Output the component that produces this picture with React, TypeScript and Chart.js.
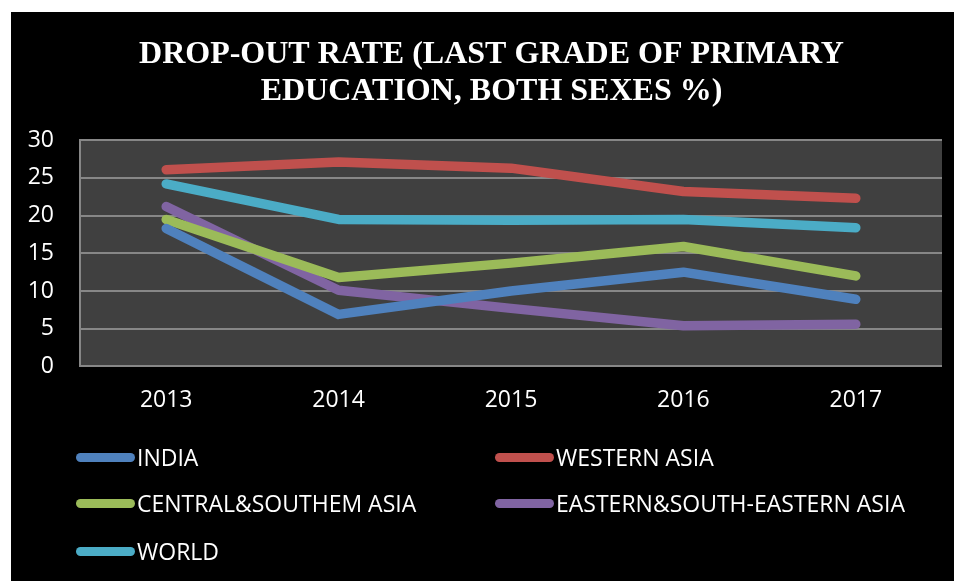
import React, { useEffect, useRef } from "react";
import { Chart, registerables } from "chart.js";

Chart.register(...registerables);

const years = ["2013", "2014", "2015", "2016", "2017"];
const india = [18.3, 6.9, 10.0, 12.5, 8.9];
const westernAsia = [26.1, 27.1, 26.3, 23.2, 22.3];
const centralSouthernAsia = [19.5, 11.8, 13.7, 15.9, 12.0];
const easternSouthEasternAsia = [21.2, 10.1, 7.7, 5.4, 5.6];
const world = [24.2, 19.5, 19.4, 19.5, 18.4];

const seriesNames = [
  "INDIA",
  "WESTERN ASIA",
  "CENTRAL&SOUTHEM ASIA",
  "EASTERN&SOUTH-EASTERN ASIA",
  "WORLD",
];
const seriesColors = ["#4F81BD", "#C0504D", "#9BBB59", "#8064A2", "#4BACC6"];
const seriesValues = [india, westernAsia, centralSouthernAsia, easternSouthEasternAsia, world];

const titleLines = ["DROP-OUT RATE (LAST GRADE OF PRIMARY", "EDUCATION, BOTH SEXES %)"];

const plotBg = {
  id: "plotBg",
  afterLayout(chart: any) {
    const tb = chart.titleBlock;
    if (tb) {
      tb.left += 15;
      tb.right += 15;
    }
  },
  beforeDraw(chart: any) {
    const { ctx, chartArea } = chart;
    ctx.save();
    ctx.fillStyle = "#000000";
    ctx.fillRect(0, 0, chart.width, chart.height);
    ctx.fillStyle = "#404040";
    ctx.fillRect(chartArea.left, chartArea.top, chartArea.right - chartArea.left, chartArea.bottom - chartArea.top);
    ctx.restore();
  },
};

const legendPos = [
  { left: 65, top: 445 },
  { left: 484, top: 445 },
  { left: 65, top: 491 },
  { left: 484, top: 491 },
  { left: 65, top: 539 },
];

export default function App() {
  const ref = useRef<HTMLCanvasElement | null>(null);

  useEffect(() => {
    if (!ref.current) return;
    const chart = new Chart(ref.current, {
      type: "line",
      data: {
        labels: years,
        datasets: seriesNames.map((name, i) => ({
          label: name,
          data: seriesValues[i],
          borderColor: seriesColors[i],
          backgroundColor: seriesColors[i],
          borderWidth: 9.5,
          borderCapStyle: "round",
          borderJoinStyle: "round",
          pointRadius: 0,
          tension: 0,
          fill: false,
        })),
      },
      options: {
        animation: false,
        responsive: false,
        maintainAspectRatio: false,
        layout: { padding: { left: 0, right: 20, top: 0, bottom: 147 } },
        plugins: {
          legend: { display: false },
          tooltip: { enabled: false },
          title: {
            display: true,
            text: titleLines,
            color: "#ffffff",
            font: { family: "'Liberation Serif', 'Times New Roman', serif", size: 32, weight: "bold", lineHeight: 1.16 },
            padding: { top: 24, bottom: 30 },
          },
        },
        scales: {
          x: {
            offset: true,
            grid: { display: false, drawTicks: false },
            border: { display: false },
            ticks: {
              color: "#ffffff",
              font: { family: "'Open Sans', sans-serif", size: 23 },
              padding: 20,
            },
          },
          y: {
            min: 0,
            max: 30,
            afterFit(scale: any) {
              scale.width = 69;
            },
            grid: { color: "#878787", lineWidth: 2, drawTicks: false },
            border: { display: true, color: "#878787", width: 2 },
            ticks: {
              stepSize: 5,
              color: "#ffffff",
              font: { family: "'Open Sans', sans-serif", size: 23 },
              padding: 26,
            },
          },
        },
      },
      plugins: [plotBg],
    });
    return () => chart.destroy();
  }, []);

  return (
    <div style={{ position: "relative", marginLeft: 3, marginTop: 4, width: 951, height: 569, background: "#000" }}>
      <canvas ref={ref} width={951} height={569} style={{ display: "block" }} />
      {seriesNames.map((name, i) => (
        <div
          key={name}
          style={{
            position: "absolute",
            left: legendPos[i].left,
            top: legendPos[i].top - 16,
            height: 32,
            display: "flex",
            alignItems: "center",
            whiteSpace: "nowrap",
          }}
        >
          <span
            style={{
              display: "inline-block",
              width: 59,
              height: 9,
              borderRadius: 5,
              background: seriesColors[i],
              marginRight: 2,
            }}
          />
          <span style={{ color: "#fff", fontFamily: "'Open Sans', sans-serif", fontSize: 23 }}>{name}</span>
        </div>
      ))}
    </div>
  );
}
